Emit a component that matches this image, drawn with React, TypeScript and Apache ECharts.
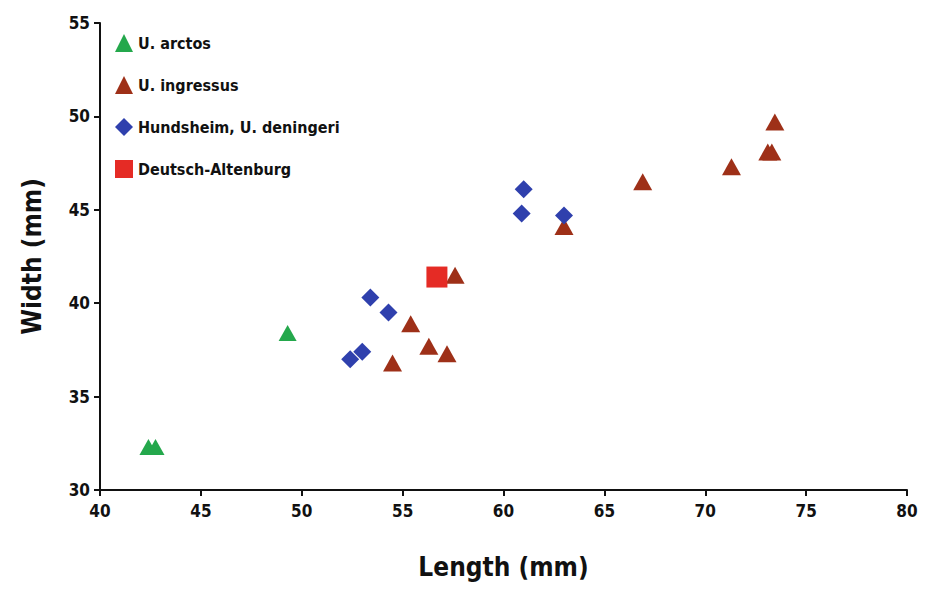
import React, { useEffect, useRef } from "react";
import * as echarts from "echarts";

const arctos: [number, number][] = [
  [42.4, 32.3],
  [42.75, 32.3],
  [49.3, 38.4],
];
const ingressus: [number, number][] = [
  [54.5, 36.8],
  [55.4, 38.9],
  [56.3, 37.7],
  [57.2, 37.3],
  [57.6, 41.5],
  [63.0, 44.1],
  [66.9, 46.5],
  [71.3, 47.3],
  [73.1, 48.1],
  [73.3, 48.1],
  [73.45, 49.7],
];
const deningeri: [number, number][] = [
  [52.4, 37.0],
  [53.0, 37.4],
  [53.4, 40.3],
  [54.3, 39.5],
  [60.9, 44.8],
  [61.0, 46.1],
  [63.0, 44.7],
];
const deutsch: [number, number][] = [[56.7, 41.4]];

const seriesNames = ["U. arctos", "U. ingressus", "Hundsheim, U. deningeri", "Deutsch-Altenburg"];
const FONT = "'DejaVu Sans Condensed', 'Roboto', sans-serif";

export default function App() {
  const ref = useRef<HTMLDivElement>(null);
  useEffect(() => {
    if (!ref.current) return;
    const chart = echarts.init(ref.current, undefined, { renderer: "svg" });
    chart.setOption({
      animation: false,
      backgroundColor: "#ffffff",
      grid: { left: 100, right: 24, top: 23, bottom: 99 },
      legend: {
        orient: "vertical",
        left: 110,
        top: 29,
        itemGap: 24,
        itemWidth: 18,
        itemHeight: 18,
        textStyle: { fontFamily: FONT, fontWeight: "bold", fontSize: 16, color: "#111" },
        data: seriesNames,
      },
      xAxis: {
        type: "value",
        min: 40,
        max: 80,
        interval: 5,
        name: "Length (mm)",
        nameLocation: "middle",
        nameGap: 64,
        nameTextStyle: { fontFamily: FONT, fontWeight: "bold", fontSize: 26, color: "#111" },
        axisLine: { show: true, lineStyle: { color: "#111", width: 2 } },
        axisTick: { show: true, inside: false, length: 6, lineStyle: { color: "#111", width: 2 } },
        axisLabel: { fontFamily: FONT, fontWeight: "bold", fontSize: 17, color: "#111", margin: 12 },
        splitLine: { show: false },
      },
      yAxis: {
        type: "value",
        min: 30,
        max: 55,
        interval: 5,
        name: "Width (mm)",
        nameLocation: "middle",
        nameGap: 55,
        nameTextStyle: { fontFamily: FONT, fontWeight: "bold", fontSize: 26, color: "#111" },
        axisLine: { show: true, lineStyle: { color: "#111", width: 2 } },
        axisTick: { show: true, inside: false, length: 6, lineStyle: { color: "#111", width: 2 } },
        axisLabel: { fontFamily: FONT, fontWeight: "bold", fontSize: 17, color: "#111", margin: 10 },
        splitLine: { show: false },
      },
      series: [
        {
          name: seriesNames[0],
          type: "scatter",
          symbol: "triangle",
          symbolSize: [18, 16],
          itemStyle: { color: "#24a84c", opacity: 1 },
          data: arctos,
        },
        {
          name: seriesNames[1],
          type: "scatter",
          symbol: "triangle",
          symbolSize: [19, 17],
          itemStyle: { color: "#9e3018", opacity: 1 },
          data: ingressus,
        },
        {
          name: seriesNames[2],
          type: "scatter",
          symbol: "diamond",
          symbolSize: 18,
          itemStyle: { color: "#2f40ad", opacity: 1 },
          data: deningeri,
        },
        {
          name: seriesNames[3],
          type: "scatter",
          symbol: "rect",
          symbolSize: 21,
          itemStyle: { color: "#e52b25", opacity: 1 },
          data: deutsch,
        },
      ],
    });
    return () => chart.dispose();
  }, []);
  return <div ref={ref} style={{ width: 931, height: 589, position: "absolute", left: 0, top: 0 }} />;
}
